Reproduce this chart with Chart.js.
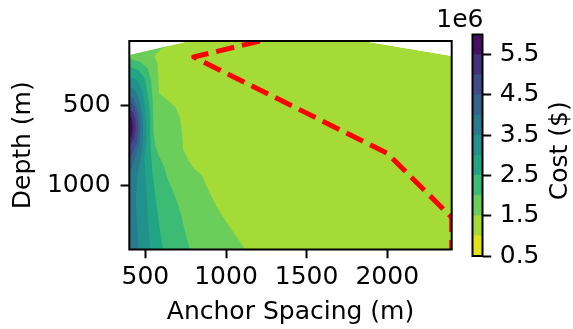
<!DOCTYPE html>
<html lang="en">
<head>
  <meta charset="UTF-8">
  <title>Anchor cost map</title>
  <script src="https://cdn.jsdelivr.net/npm/chart.js"></script>
  <style>
    html, body { margin: 0; padding: 0; background: #fff; }
    #wrap { position: relative; width: 573px; height: 329px; }
    #wrap canvas { position: absolute; left: 0; top: 0; }
  </style>
</head>
<body>
  <div id="wrap">
    <canvas id="costMap" width="573" height="329"></canvas>
    <canvas id="costBar" width="573" height="329"></canvas>
  </div>

<script>
// axis limits (m)
const spacingMin = 400, spacingMax = 2400;
const depthMin = 100, depthMax = 1400;

const spacingTicks = [500, 1000, 1500, 2000];
const depthTicks = [500, 1000];

// cost levels in millions of $
const costLevels = [0.5, 1.0, 1.5, 2.0, 2.5, 3.0, 3.5, 4.0, 4.5, 5.0, 5.5, 6.0];
const costTicks = [0.5, 1.5, 2.5, 3.5, 4.5, 5.5];

// upper edge of the evaluated region [spacing, depth]
const gridTop = [[400, 188], [773, 100], [1848, 100], [2400, 193]];

// iso-cost lines [spacing, depth]; cost rises towards the 400 m edge
const iso15 = [[760, 92], [660, 122], [600, 150], [555, 195], [575, 240], [585, 425], [650, 480], [685, 510],
               [715, 580], [725, 655], [735, 780], [765, 840], [805, 900], [850, 935], [870, 985], [940, 1130],
               [1005, 1235], [1120, 1400]];
const iso20 = [[400, 210], [465, 230], [515, 270], [535, 345], [545, 465], [550, 655], [560, 745], [580, 810],
               [610, 870], [640, 965], [685, 1070], [720, 1180], [750, 1305], [775, 1400]];
const iso25 = [[400, 260], [455, 280], [495, 330], [515, 435], [530, 560], [530, 685], [535, 810], [545, 935],
               [565, 1090], [585, 1245], [610, 1400]];
const iso30 = [[400, 320], [450, 345], [480, 405], [495, 500], [505, 620], [505, 715], [495, 840], [505, 995],
               [515, 1180], [530, 1400]];
const iso35 = [[400, 380], [440, 415], [465, 480], [485, 590], [485, 685], [475, 810], [450, 935], [440, 1090],
               [448, 1245], [455, 1400]];
const iso40 = [[400, 435], [430, 465], [455, 530], [470, 620], [465, 715], [445, 800], [420, 870], [400, 930]];
const iso45 = [[400, 478], [430, 505], [448, 560], [456, 640], [448, 728], [423, 790], [400, 840]];
const iso50 = [[400, 520], [425, 550], [438, 600], [441, 650], [432, 705], [400, 760]];
const iso55 = [[400, 550], [418, 590], [425, 640], [418, 690], [400, 716]];

// cheapest layout
const routeSpacing = [1210, 800, 2000, 2400, 2400];
const routeDepth = [100, 200, 800, 1200, 1400];

// viridis_r, one colour per band between levels
const bandColors = ['#e2e418', '#a4db36', '#6bcd5a', '#3cbb74', '#21a685', '#21918c',
                    '#297a8e', '#33648d', '#3e4c89', '#46307d', '#471163'];

Chart.defaults.font.family = '"DejaVu Sans", sans-serif';
Chart.defaults.font.size = 25;
Chart.defaults.color = '#000';

const toXY = pts => pts.map(p => ({x: p[0], y: p[1]}));
const isoLines = [iso15, iso20, iso25, iso30, iso35, iso40, iso45, iso50, iso55];

// box round the plot area
const frame = {
  id: 'frame',
  afterDatasetsDraw(chart) {
    const {ctx, chartArea: a} = chart;
    ctx.save();
    ctx.strokeStyle = '#000';
    ctx.lineWidth = 2;
    ctx.strokeRect(a.left, a.top, a.right - a.left, a.bottom - a.top);
    ctx.restore();
  }
};

const tickGrid = {drawOnChartArea: false, tickLength: 8.75, tickWidth: 2, tickColor: '#000'};

// fills are painted last-to-first, so the route and mask come first
let datasets = [];
datasets.push({
  label: 'route',
  indexAxis: 'y',
  data: routeSpacing.map((s, i) => ({x: s, y: routeDepth[i]})),
  borderColor: '#ff0000',
  borderWidth: 5,
  borderDash: [18.5, 8],
  borderCapStyle: 'butt',
  borderJoinStyle: 'round',
  pointRadius: 0,
  fill: false,
  clip: 0
});
datasets.push({
  label: 'outside',
  indexAxis: 'x',
  data: toXY(gridTop),
  borderWidth: 0,
  pointRadius: 0,
  backgroundColor: '#ffffff',
  fill: {value: depthMin}
});
for (let i = isoLines.length - 1; i >= 0; i--) {
  datasets.push({
    label: 'cost ' + costLevels[i + 2],
    indexAxis: 'y',
    data: toXY(isoLines[i]),
    borderWidth: 0,
    pointRadius: 0,
    backgroundColor: bandColors[i + 2],
    fill: {value: spacingMin}
  });
}
datasets.push({
  label: 'base',
  indexAxis: 'x',
  data: toXY(gridTop),
  borderWidth: 0,
  pointRadius: 0,
  backgroundColor: bandColors[1],
  fill: {value: depthMax}
});

new Chart(document.getElementById('costMap'), {
  type: 'line',
  data: {datasets: datasets},
  options: {
    responsive: false,
    animation: false,
    events: [],
    devicePixelRatio: 1,
    layout: {padding: {left: 0, top: 41, right: 121.3, bottom: 0}},
    plugins: {legend: {display: false}, tooltip: {enabled: false}},
    scales: {
      x: {
        type: 'linear',
        min: spacingMin,
        max: spacingMax,
        afterBuildTicks: s => { s.ticks = spacingTicks.map(v => ({value: v})); },
        afterFit: s => { s.height = 79.5; },
        ticks: {callback: v => String(v), padding: 4.5, maxRotation: 0, autoSkip: false},
        grid: tickGrid,
        border: {display: false},
        title: {display: true, text: 'Anchor Spacing (m)', padding: {top: 0, bottom: 1.6}}
      },
      y: {
        type: 'linear',
        reverse: true,
        min: depthMin,
        max: depthMax,
        afterBuildTicks: s => { s.ticks = depthTicks.map(v => ({value: v})); },
        afterFit: s => { s.width = 129.3; },
        ticks: {callback: v => String(v), padding: 10, autoSkip: false},
        grid: tickGrid,
        border: {display: false},
        title: {display: true, text: 'Depth (m)', padding: {top: 8, bottom: 0}}
      }
    }
  },
  plugins: [frame]
});

// colour bar
const costScale = '1e6';
const costTitle = 'Cost ($)';

const barLabels = {
  id: 'barLabels',
  afterDraw(chart) {
    const {ctx, chartArea: a} = chart;
    ctx.save();
    ctx.fillStyle = '#000';
    ctx.font = '25px "DejaVu Sans", sans-serif';
    ctx.textBaseline = 'alphabetic';
    ctx.textAlign = 'right';
    ctx.fillText(costScale, a.right + 1, 26.5);
    ctx.translate(567, (a.top + a.bottom) / 2 + 5.5);
    ctx.rotate(-Math.PI / 2);
    ctx.textAlign = 'center';
    ctx.fillText(costTitle, 0, 0);
    ctx.restore();
  }
};

new Chart(document.getElementById('costBar'), {
  type: 'bar',
  data: {
    labels: ['cost'],
    datasets: bandColors.map((c, i) => ({
      data: [[costLevels[i], costLevels[i + 1]]],
      backgroundColor: c,
      borderWidth: 0,
      barPercentage: 1,
      categoryPercentage: 1,
      grouped: false
    }))
  },
  options: {
    responsive: false,
    animation: false,
    events: [],
    devicePixelRatio: 1,
    layout: {padding: {left: 472.5, top: 34.5, right: 0, bottom: 73}},
    plugins: {legend: {display: false}, tooltip: {enabled: false}},
    scales: {
      x: {display: false},
      y: {
        position: 'right',
        min: costLevels[0],
        max: costLevels[costLevels.length - 1],
        afterBuildTicks: s => { s.ticks = costTicks.map(v => ({value: v})); },
        afterFit: s => { s.width = 90.5; },
        ticks: {callback: v => v.toFixed(1), padding: 8.5, autoSkip: false},
        grid: tickGrid,
        border: {display: false}
      }
    }
  },
  plugins: [frame, barLabels]
});
</script>
</body>
</html>
